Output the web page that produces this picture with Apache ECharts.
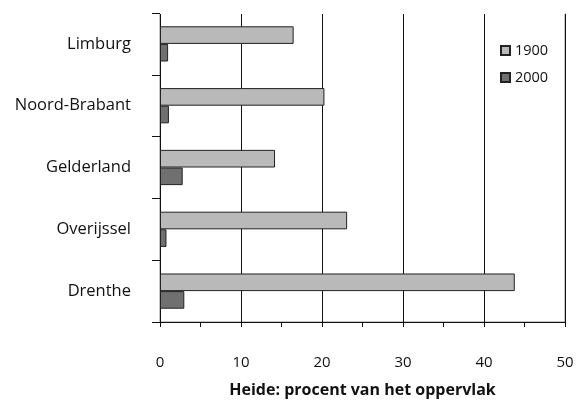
<!DOCTYPE html>
<html><head><meta charset="utf-8">
<script src="https://cdn.jsdelivr.net/npm/echarts@6/dist/echarts.min.js"></script>
<style>html,body{margin:0;padding:0;background:#fff}#c{width:579px;height:406px}</style>
</head><body><div id="c"></div>
<script>
const categories = ['Limburg', 'Noord-Brabant', 'Gelderland', 'Overijssel', 'Drenthe'];
const values1900 = [16.5, 20.3, 14.2, 23.1, 43.8];
const values2000 = [1.0, 1.1, 2.8, 0.8, 3.0];
const seriesNames = ['1900', '2000'];
const axisTitle = 'Heide: procent van het oppervlak';
const axisMax = 50;

const font = '"Open Sans", "Noto Sans", sans-serif';
const chart = echarts.init(document.getElementById('c'), null, {renderer: 'canvas'});
chart.setOption({
  animation: false,
  backgroundColor: '#fff',
  textStyle: {fontFamily: font},
  grid: {left: 160, right: 14, top: 13, bottom: 84, containLabel: false,
    show: true, backgroundColor: 'transparent', borderColor: '#8a8a8a', borderWidth: 1},
  legend: {
    orient: 'vertical', left: 495, top: 38, itemWidth: 9, itemHeight: 9, itemGap: 12,
    icon: 'rect',
    textStyle: {fontSize: 14.5, color: '#111', fontFamily: font},
    data: seriesNames
  },
  xAxis: [{
    type: 'value', min: 0, max: axisMax, interval: 10,
    name: axisTitle, nameLocation: 'middle', nameGap: 60,
    nameTextStyle: {fontSize: 16, fontWeight: 'bold', color: '#111', fontFamily: font},
    axisLine: {show: true, onZero: false, lineStyle: {color: '#111', width: 1}},
    axisTick: {show: true, length: 5, lineStyle: {color: '#111'}},
    minorTick: {show: true, splitNumber: 2, length: 5, lineStyle: {color: '#111'}},
    axisLabel: {fontSize: 15, color: '#111', margin: 33, fontFamily: font},
    splitLine: {show: true, lineStyle: {color: '#111', width: 1}}
  }, {
    type: 'value', min: 0, max: axisMax, position: 'top',
    axisLine: {show: true, onZero: false, lineStyle: {color: '#fff', width: 2}},
    axisTick: {show: false}, axisLabel: {show: false}, splitLine: {show: false}
  }],
  yAxis: {
    type: 'category', data: categories, inverse: true,
    axisLine: {show: true, onZero: false, lineStyle: {color: '#111', width: 1}},
    axisTick: {show: true, length: 8, lineStyle: {color: '#111'}},
    axisLabel: {fontSize: 16.5, color: '#111', margin: 29, fontFamily: font}
  },
  series: [
    {name: seriesNames[0], type: 'bar', data: values1900, barGap: '0%', barCategoryGap: '43%',
     itemStyle: {color: '#b9b9b9', borderColor: '#222', borderWidth: 1}},
    {name: seriesNames[1], type: 'bar', data: values2000, barGap: '0%', barCategoryGap: '43%',
     itemStyle: {color: '#707070', borderColor: '#222', borderWidth: 1}}
  ]
});
</script></body></html>
